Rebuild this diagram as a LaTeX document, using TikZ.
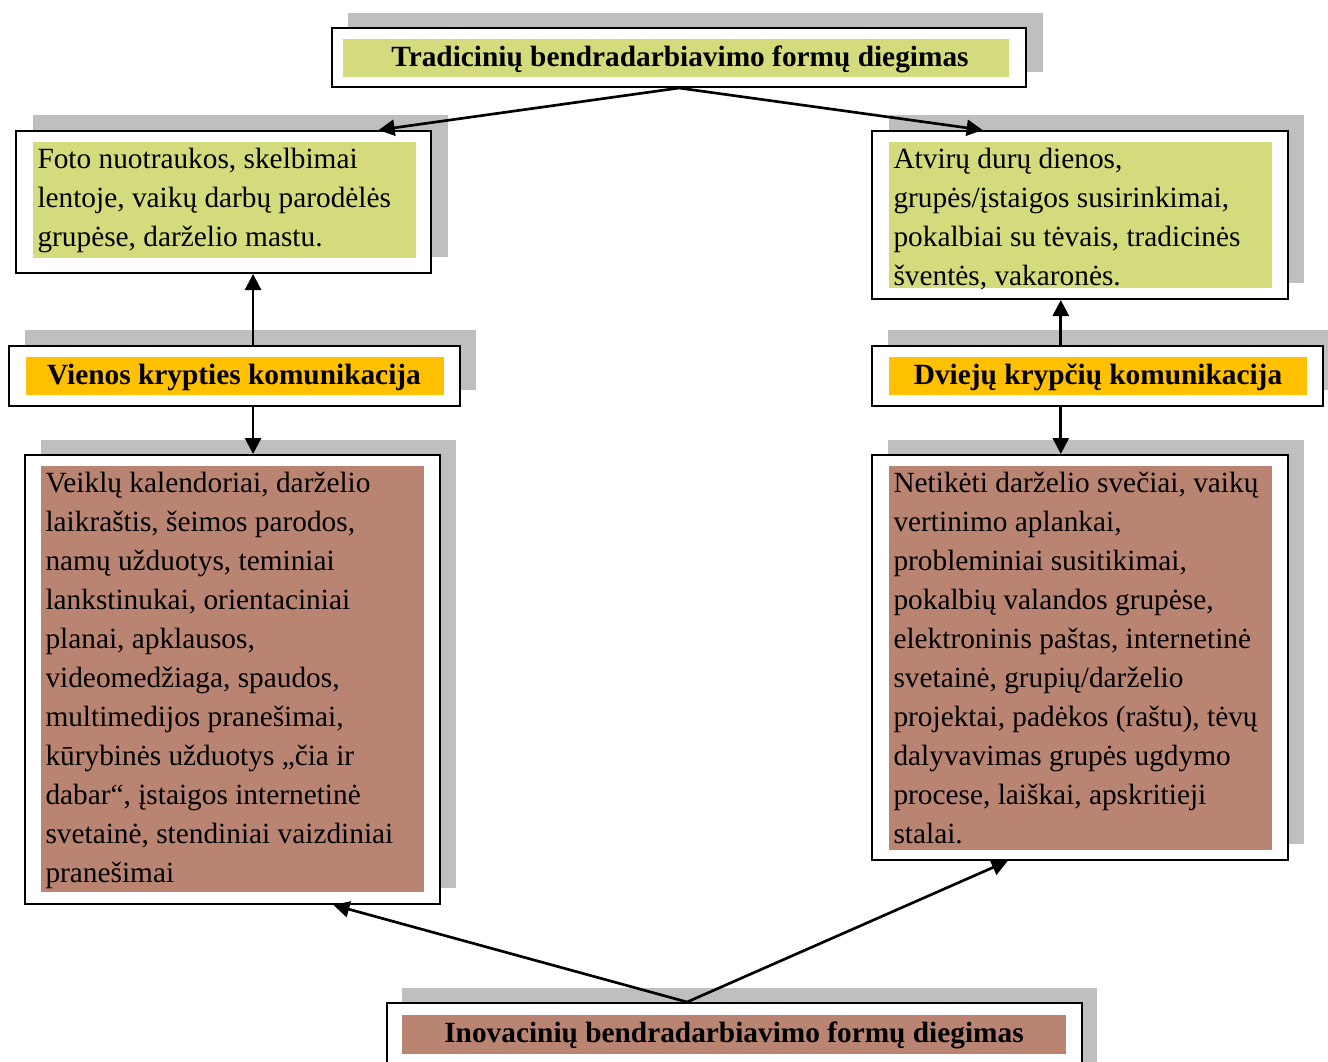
\documentclass[tikz,border=0pt]{standalone}
\usepackage{fontspec}
\setmainfont{Liberation Serif}
\usetikzlibrary{arrows.meta,calc,fit}
\definecolor{shadowgray}{RGB}{191,191,191}
\definecolor{olivefill}{RGB}{212,219,124}
\definecolor{amberfill}{RGB}{255,192,0}
\definecolor{clayfill}{RGB}{185,133,114}
\tikzset{every picture/.style={line width=0.75pt}}

\begin{document}
\begin{tikzpicture}[x=0.75pt,y=0.75pt,yscale=-1,xscale=1,
	frame/.style={draw, line width=1.5pt, fill=white, inner sep=0pt},
	shade/.style={fill=shadowgray},
	body/.style={anchor=north west, inner sep=3pt, align=left, font=\fontsize{22}{29.25}\selectfont},
	head/.style={inner sep=0pt, font=\fontsize{22}{29}\selectfont\bfseries},
	link/.style={line width=2pt, -{Triangle[length=12pt,width=12pt]}}]
	\useasboundingbox (0,0) rectangle (1328,1061);
	
	%Shape: Rectangle [top]
	\fill[shade] (348,13) rectangle (1043,72);
	\node[frame, fit={(332,28) (1026,87)}] (trad) {};
	\fill[olivefill] (343,39) rectangle (1009,77);
	% Text Node
	\node[head] (tradtxt) at (680,59) {Tradicinių bendradarbiavimo formų diegimas};
	
	%Shape: Rectangle [one way results]
	\fill[shade] (33,115) rectangle (448,257);
	\node[frame, fit={(16,131) (431,273)}] (foto) {};
	\fill[olivefill] (33,142) rectangle (416,258);
	% Text Node
	\node[body] (fototxt) at (33,144) {Foto nuotraukos, skelbimai\\lentoje, vaikų darbų parodėlės\\grupėse, darželio mastu.};
	
	%Shape: Rectangle [two way results]
	\fill[shade] (889,115) rectangle (1304,283);
	\node[frame, fit={(872,131) (1288,299)}] (atviru) {};
	\fill[olivefill] (889,142) rectangle (1272,288);
	% Text Node
	\node[body] (atvirutxt) at (889,144) {Atvirų durų dienos,\\grupės/įstaigos susirinkimai,\\pokalbiai su tėvais, tradicinės\\šventės, vakaronės.};
	
	%Shape: Rectangle [one way]
	\fill[shade] (25,330) rectangle (476,390);
	\node[frame, fit={(9,346) (460,406)}] (vienos) {};
	\fill[amberfill] (26,357) rectangle (444,395);
	% Text Node
	\node[head] (vienostxt) at (234,377) {Vienos krypties komunikacija};
	
	%Shape: Rectangle [two way]
	\fill[shade] (888,330) rectangle (1328,390);
	\node[frame, fit={(872,346) (1323,406)}] (dvieju) {};
	\fill[amberfill] (889,357) rectangle (1307,395);
	% Text Node
	\node[head] (dviejutxt) at (1098,377) {Dviejų krypčių komunikacija};
	
	%Shape: Rectangle [one way innovations]
	\fill[shade] (41,440) rectangle (456,888);
	\node[frame, fit={(25,455) (440,904)}] (veiklu) {};
	\fill[clayfill] (41,466) rectangle (424,892);
	% Text Node
	\node[body] (veiklutxt) at (41,468) {Veiklų kalendoriai, darželio\\laikraštis, šeimos parodos,\\namų užduotys, teminiai\\lankstinukai, orientaciniai\\planai, apklausos,\\videomedžiaga, spaudos,\\multimedijos pranešimai,\\kūrybinės užduotys „čia ir\\dabar“, įstaigos internetinė\\svetainė, stendiniai vaizdiniai\\pranešimai};
	
	%Shape: Rectangle [two way innovations]
	\fill[shade] (888,440) rectangle (1304,844);
	\node[frame, fit={(872,455) (1288,860)}] (netiketi) {};
	\fill[clayfill] (889,466) rectangle (1272,850);
	% Text Node
	\node[body] (netiketitxt) at (889,468) {Netikėti darželio svečiai, vaikų\\vertinimo aplankai,\\probleminiai susitikimai,\\pokalbių valandos grupėse,\\elektroninis paštas, internetinė\\svetainė, grupių/darželio\\projektai, padėkos (raštu), tėvų\\dalyvavimas grupės ugdymo\\procese, laiškai, apskritieji\\stalai.};
	
	%Shape: Rectangle [bottom]
	\fill[shade] (402,988) rectangle (1097,1070);
	\node[frame, fit={(387,1003) (1082,1068)}] (inov) {};
	\fill[clayfill] (402,1015) rectangle (1066,1054);
	% Text Node
	\node[head] (inovtxt) at (734,1035) {Inovacinių bendradarbiavimo formų diegimas};
	
	%Straight Lines [arrows]
	\draw[link] (trad.south) -- ($(foto.north west)!0.872!(foto.north east)$);
	\draw[link] (trad.south) -- ($(atviru.north west)!0.267!(atviru.north east)$);
	\draw[link] ($(vienos.north west)!0.541!(vienos.north east)$) coordinate (vup) -- (vup |- foto.south);
	\draw[link] (vup |- vienos.south) -- (vup |- veiklu.north);
	\draw[link] ($(dvieju.north west)!0.419!(dvieju.north east)$) coordinate (dup) -- (dup |- atviru.south);
	\draw[link] (dup |- dvieju.south) -- (dup |- netiketi.north);
	\draw[link] ($(inov.north west)!0.432!(inov.north east)$) coordinate (iup) -- ($(veiklu.south west)!0.742!(veiklu.south east)$);
	\draw[link] (iup) -- ($(netiketi.south west)!0.327!(netiketi.south east)$);
	
\end{tikzpicture}
\end{document}
